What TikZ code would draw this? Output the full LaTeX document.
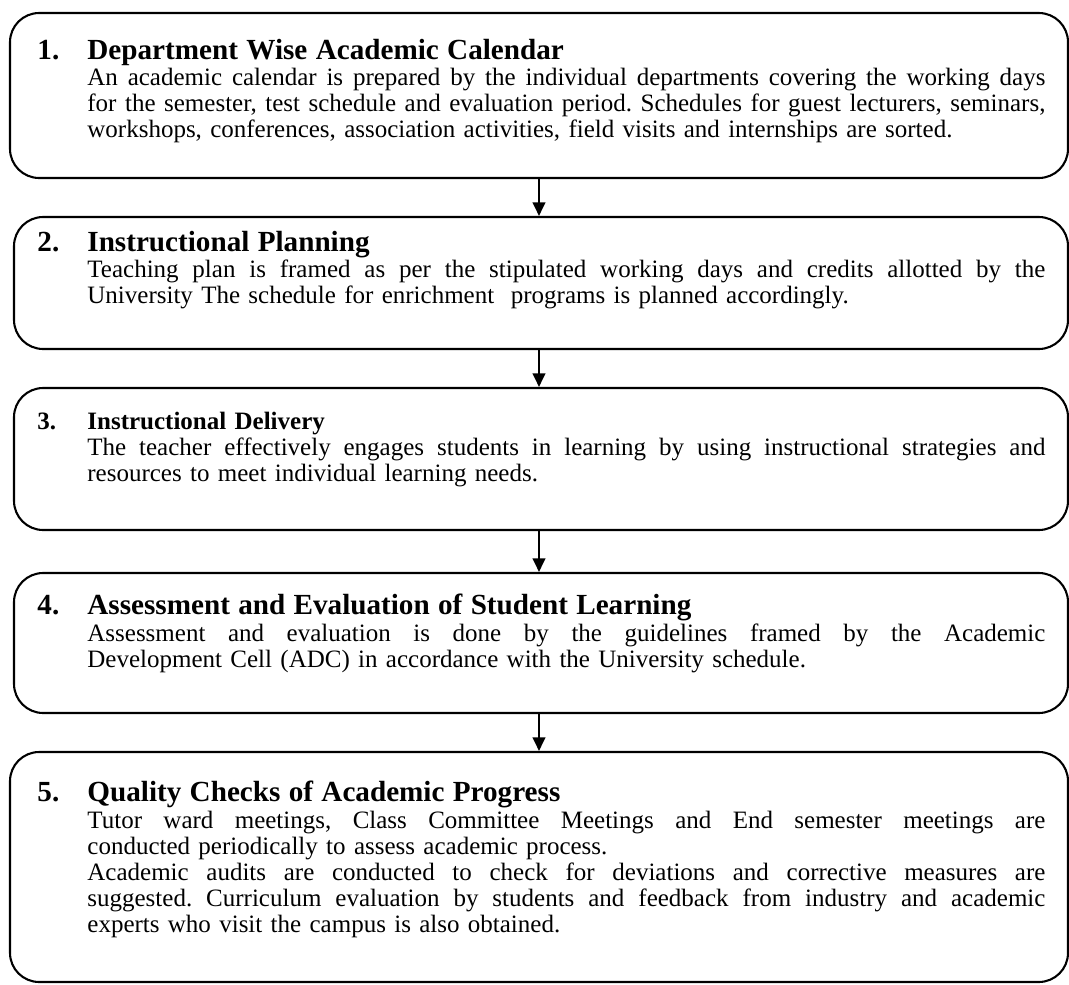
\documentclass[tikz,border=0pt]{standalone}
\usepackage{fontspec}
\setmainfont{Liberation Serif}
\usetikzlibrary{arrows.meta}
\frenchspacing
\newcommand{\stephead}[3][14]{\noindent{\fontsize{#1}{12.5}\selectfont\bfseries\makebox[24pt][l]{#2}#3}}
\newcommand{\jline}[1]{\hspace*{24pt}\hbox to 459.84pt{\spaceskip=\fontdimen2\font plus 1fil\relax #1}}
\newcommand{\tline}[1]{\hspace*{24pt}#1}

\begin{document}
\begin{tikzpicture}[x=0.48pt,y=-0.48pt,
	stepbox/.style={draw,line width=1pt,rounded corners=14pt,inner sep=0pt},
	steptext/.style={anchor=north west,inner sep=0pt,text width=483.84pt,align=left,font=\fontsize{12}{12.5}\selectfont},
	flow/.style={line width=1pt,-{Triangle[width=6pt,length=6.5pt]}}]
			\useasboundingbox (0,0) rectangle (1069,985);
			\node[stepbox,minimum width=1058*0.48pt,minimum height=165*0.48pt] (box1) at (539,95.5) {};
			\node[stepbox,minimum width=1054*0.48pt,minimum height=132*0.48pt] (box2) at (541,283) {};
			\node[stepbox,minimum width=1054*0.48pt,minimum height=142*0.48pt] (box3) at (541,459) {};
			\node[stepbox,minimum width=1054*0.48pt,minimum height=140*0.48pt] (box4) at (541,643) {};
			\node[stepbox,minimum width=1058*0.48pt,minimum height=230*0.48pt] (box5) at (539,867) {};
			\node[steptext] (text1) at (37,39) {\stephead{1.}{Department Wise Academic Calendar}\\
				\jline{An academic calendar is prepared by the individual departments covering the working days}\\
				\jline{for the semester, test schedule and evaluation period. Schedules for guest lecturers, seminars,}\\
				\tline{workshops, conferences, association activities, field visits and internships are sorted.}};
			\node[steptext] (text2) at (37,231) {\stephead{2.}{Instructional Planning}\\
				\jline{Teaching plan is framed as per the stipulated working days and credits allotted by the}\\
				\tline{University The schedule for enrichment\ \ programs is planned accordingly.}};
			\node[steptext] (text3) at (37,412) {\stephead[12]{3.}{Instructional Delivery}\\
				\jline{The teacher effectively engages students in learning by using instructional strategies and}\\
				\tline{resources to meet individual learning needs.}};
			\node[steptext] (text4) at (37,594) {\stephead{4.}{Assessment and Evaluation of Student Learning}\\
				\jline{Assessment and evaluation is done by the guidelines framed by the Academic}\\
				\tline{Development Cell (ADC) in accordance with the University schedule.}};
			\node[steptext] (text5) at (37,781) {\stephead{5.}{Quality Checks of Academic Progress}\\
				\jline{Tutor ward meetings, Class Committee Meetings and End semester meetings are}\\
				\tline{conducted periodically to assess academic process.}\\
				\jline{Academic audits are conducted to check for deviations and corrective measures are}\\
				\jline{suggested. Curriculum evaluation by students and feedback from industry and academic}\\
				\tline{experts who visit the campus is also obtained.}};
			\draw[flow] (box1.south) -- (box1.south |- box2.north);
			\draw[flow] (box1.south |- box2.south) -- (box1.south |- box3.north);
			\draw[flow] (box1.south |- box3.south) -- (box1.south |- box4.north);
			\draw[flow] (box1.south |- box4.south) -- (box1.south |- box5.north);
		\end{tikzpicture}
\end{document}
